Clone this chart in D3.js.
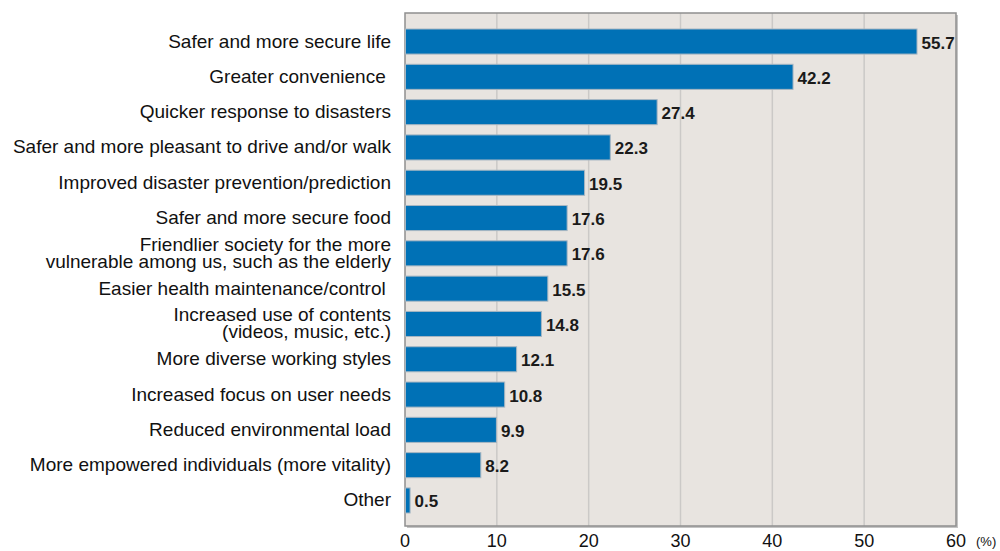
<!DOCTYPE html>
<html>
<head>
<meta charset="utf-8">
<script src="https://cdn.jsdelivr.net/npm/d3@7"></script>
<style>
  body { margin: 0; background: #fff; }
  text { font-family: "Liberation Sans", Arial, Helvetica, sans-serif; }
</style>
</head>
<body>
<div id="vis"></div>
<script>
// categories (multi-line labels split by \n)
const categories = [
  'Safer and more secure life',
  'Greater convenience ',
  'Quicker response to disasters',
  'Safer and more pleasant to drive and/or walk',
  'Improved disaster prevention/prediction',
  'Safer and more secure food',
  'Friendlier society for the more\nvulnerable among us, such as the elderly',
  'Easier health maintenance/control ',
  'Increased use of contents\n(videos, music, etc.)',
  'More diverse working styles',
  'Increased focus on user needs',
  'Reduced environmental load',
  'More empowered individuals (more vitality)',
  'Other'
]
const values = [55.7, 42.2, 27.4, 22.3, 19.5, 17.6, 17.6, 15.5, 14.8, 12.1, 10.8, 9.9, 8.2, 0.5]
const xTicks = [0, 10, 20, 30, 40, 50, 60]

const W = 1000, H = 551
const margin = { top: 13, right: 44, bottom: 25, left: 405 }
const width = W - margin.left - margin.right
const height = H - margin.top - margin.bottom

const svg = d3.select('#vis')
  .append('svg')
  .attr('width', W)
  .attr('height', H)

const g = svg.append('g')
  .attr('transform', `translate(${margin.left},${margin.top})`)

const xScale = d3.scaleLinear().domain([0, 60]).range([0, width])
const yScale = d3.scaleBand().domain(categories).range([16, height - 13]).paddingInner(0.29).paddingOuter(0)

// plot background (with a soft shadow)
g.append('rect')
  .attr('x', 2).attr('y', 2)
  .attr('width', width).attr('height', height)
  .style('fill', '#c4c4c4')
g.append('rect')
  .attr('width', width).attr('height', height)
  .style('fill', '#e8e4e0')

// grid lines
g.selectAll('.grid')
  .data(xTicks.slice(1, -1))
  .join('line')
  .attr('class', 'grid')
  .attr('x1', d => xScale(d)).attr('x2', d => xScale(d))
  .attr('y1', 0).attr('y2', height)
  .style('stroke', '#cbc9c7')
  .style('stroke-width', 1.5)

g.append('rect')
  .attr('width', width).attr('height', height)
  .style('fill', 'none')
  .style('stroke', '#8f8f8f')
  .style('stroke-width', 1.5)

// bars
g.selectAll('.bar')
  .data(values)
  .join('rect')
  .attr('class', 'bar')
  .attr('x', 0.5)
  .attr('y', (d, i) => yScale(categories[i]))
  .attr('width', d => xScale(d))
  .attr('height', yScale.bandwidth())
  .style('fill', '#0071b6')
  .style('stroke', '#a7b6c2')
  .style('stroke-width', 1)

// value labels
g.selectAll('.val')
  .data(values)
  .join('text')
  .attr('class', 'val')
  .attr('x', d => xScale(d) + 5)
  .attr('y', (d, i) => yScale(categories[i]) + yScale.bandwidth() / 2 + 7)
  .style('font-size', '17px')
  .style('font-weight', 'bold')
  .style('fill', '#1a1a1a')
  .text(d => d.toFixed(1))

// category labels
const labels = g.selectAll('.cat')
  .data(categories)
  .join('text')
  .attr('class', 'cat')
  .attr('text-anchor', 'end')
  .style('font-size', '19px')
  .style('fill', '#111')
  .style('white-space', 'pre')
  .attr('transform', d => `translate(-14,${yScale(d) + yScale.bandwidth() / 2})`)

labels.each(function(d) {
  const lines = d.split('\n')
  const lh = 17
  const start = -(lines.length - 1) * lh / 2 + 6
  d3.select(this).selectAll('tspan')
    .data(lines)
    .join('tspan')
    .attr('x', 0)
    .attr('y', (l, i) => start + i * lh)
    .text(l => l)
})

// x axis tick labels
g.selectAll('.tick-label')
  .data(xTicks)
  .join('text')
  .attr('class', 'tick-label')
  .attr('x', d => xScale(d))
  .attr('y', height + 21)
  .attr('text-anchor', 'middle')
  .style('font-size', '18px')
  .style('fill', '#111')
  .text(d => d)

g.append('text')
  .attr('x', width + 20)
  .attr('y', height + 20)
  .style('font-size', '13px')
  .style('fill', '#111')
  .text('(%)')
</script>
</body>
</html>
